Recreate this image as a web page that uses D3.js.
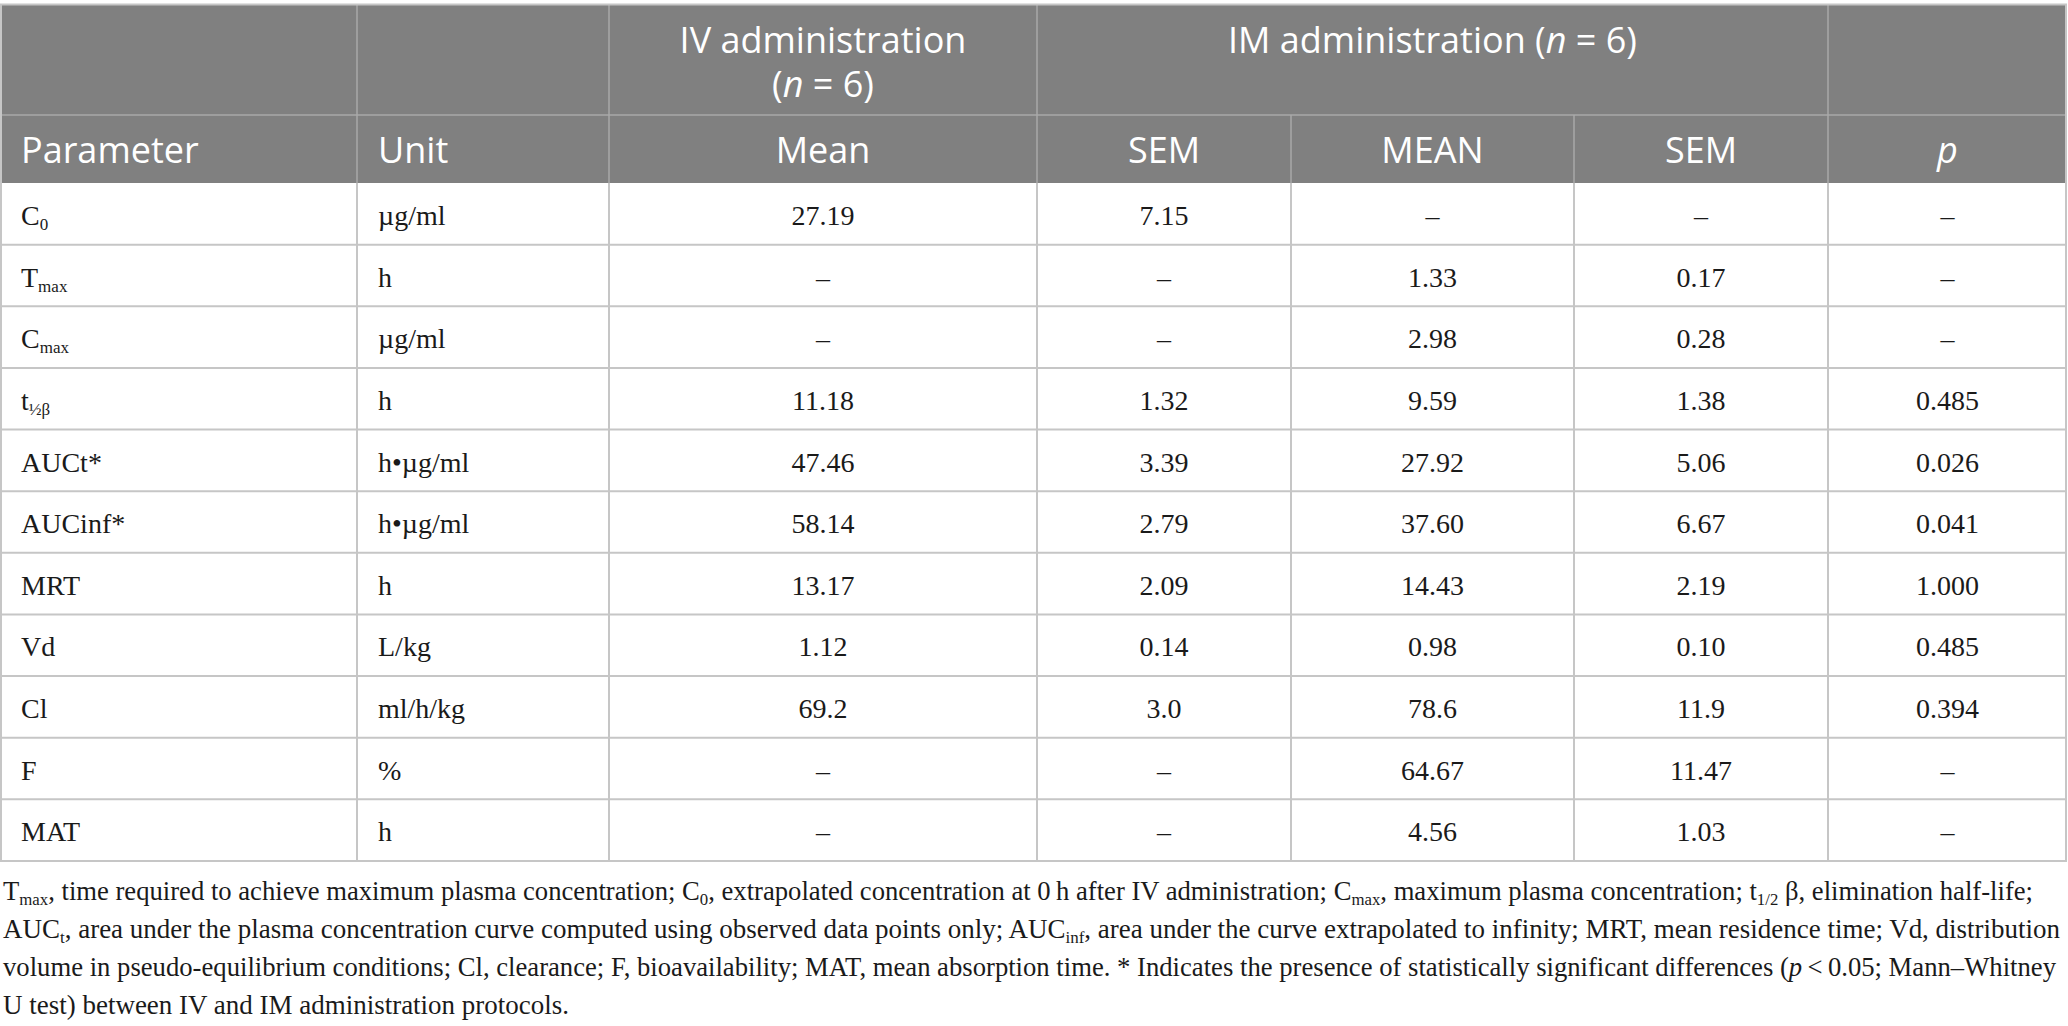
<!DOCTYPE html>
<html>
<head>
<meta charset="utf-8">
<script src="https://cdn.jsdelivr.net/npm/d3@7"></script>
<style>
  html, body { margin: 0; padding: 0; background: #fff; }
  svg { display: block; }
</style>
</head>
<body>
<svg id="chart"></svg>
<script>
// table values
const paramBase = ["C", "T", "C", "t", "AUCt*", "AUCinf*", "MRT", "Vd", "Cl", "F", "MAT"];
const paramSub = ["0", "max", "max", "½β", "", "", "", "", "", "", ""];
const units = ["µg/ml", "h", "µg/ml", "h", "h•µg/ml", "h•µg/ml", "h", "L/kg", "ml/h/kg", "%", "h"];
const ivMean = ["27.19", "–", "–", "11.18", "47.46", "58.14", "13.17", "1.12", "69.2", "–", "–"];
const ivSem = ["7.15", "–", "–", "1.32", "3.39", "2.79", "2.09", "0.14", "3.0", "–", "–"];
const imMean = ["–", "1.33", "2.98", "9.59", "27.92", "37.60", "14.43", "0.98", "78.6", "64.67", "4.56"];
const imSem = ["–", "0.17", "0.28", "1.38", "5.06", "6.67", "2.19", "0.10", "11.9", "11.47", "1.03"];
const pValues = ["–", "–", "–", "0.485", "0.026", "0.041", "1.000", "0.485", "0.394", "–", "–"];

const columnKeys = ["param", "unit", "ivMean", "ivSem", "imMean", "imSem", "p"];
const columnLabels = ["Parameter", "Unit", "Mean", "SEM", "MEAN", "SEM", "p"];

// footnote lines, each a list of [text, style] pieces
const footnote = [
  [["T", ""], ["max", "sub"], [", time required to achieve maximum plasma concentration; C", ""], ["0", "sub"],
   [", extrapolated concentration at 0\u2009h after IV administration; C", ""], ["max", "sub"],
   [", maximum plasma concentration; t", ""], ["1/2", "sub"], [" β, elimination half-life;", ""]],
  [["AUC", ""], ["t", "sub"], [", area under the plasma concentration curve computed using observed data points only; AUC", ""],
   ["inf", "sub"], [", area under the curve extrapolated to infinity; MRT, mean residence time; Vd, distribution", ""]],
  [["volume in pseudo-equilibrium conditions; Cl, clearance; F, bioavailability; MAT, mean absorption time. * Indicates the presence of statistically significant differences (", ""],
   ["p", "it"], ["\u2009<\u20090.05; Mann–Whitney", ""]],
  [["U test) between IV and IM administration protocols.", ""]]
];

const width = 2068, height = 1026;
const colWidths = [357, 252, 428, 254, 283, 254, 239];
const headTop = 4.5, headMid = 115, headBottom = 183, bodyBottom = 861;
const gridColor = "#c6c6c6", headLine = "#a8a8a8", headFill = "#808080";
const sans = "'Open Sans', 'Noto Sans', sans-serif";
const serif = "'Liberation Serif', 'DejaVu Serif', serif";

const svg = d3.select("#chart").attr("width", width).attr("height", height);

const edges = [0, ...d3.cumsum(colWidths)];
const x = d3.scaleOrdinal().domain(columnKeys).range(edges.slice(0, -1));
const w = d3.scaleOrdinal().domain(columnKeys).range(colWidths);
const cx = k => x(k) + w(k) / 2;

const rows = paramBase.map((p, i) => ({
  param: p, sub: paramSub[i], unit: units[i],
  ivMean: ivMean[i], ivSem: ivSem[i], imMean: imMean[i], imSem: imSem[i], p: pValues[i]
}));

const y = d3.scaleBand().domain(d3.range(rows.length)).range([headBottom, bodyBottom]);

// header background
svg.append("rect")
  .attr("x", 0).attr("y", headTop)
  .attr("width", edges[edges.length - 1]).attr("height", headBottom - headTop)
  .attr("fill", headFill);

// header lines
const headG = svg.append("g").attr("stroke", headLine).attr("stroke-width", 1.5);
headG.append("line").attr("x1", 0).attr("x2", edges[7]).attr("y1", headMid).attr("y2", headMid);
headG.selectAll(".v1").data([1, 2, 3, 6]).enter().append("line")
  .attr("x1", d => edges[d]).attr("x2", d => edges[d])
  .attr("y1", headTop).attr("y2", headMid);
headG.selectAll(".v2").data(d3.range(1, 7)).enter().append("line")
  .attr("x1", d => edges[d]).attr("x2", d => edges[d])
  .attr("y1", headMid).attr("y2", headBottom);

// header texts
const headText = svg.append("g").attr("fill", "#fff").attr("font-family", sans).attr("font-size", 36);

const ivT = headText.append("text").attr("text-anchor", "middle");
ivT.append("tspan").attr("x", cx("ivMean")).attr("y", 53).text("IV administration");
const ivT2 = ivT.append("tspan").attr("x", cx("ivMean")).attr("y", 97);
ivT2.append("tspan").text("(");
ivT2.append("tspan").attr("font-style", "italic").text("n");
ivT2.append("tspan").text(" = 6)");

// IM group spans SEM, MEAN, SEM
const imT = headText.append("text").attr("text-anchor", "middle")
  .attr("x", (x("ivSem") + edges[6]) / 2).attr("y", 53);
imT.append("tspan").text("IM administration (");
imT.append("tspan").attr("font-style", "italic").text("n");
imT.append("tspan").text(" = 6)");

headText.selectAll(".colhead").data(columnKeys).enter().append("text")
  .attr("x", (d, i) => i < 2 ? x(d) + 21 : cx(d))
  .attr("y", 163)
  .attr("text-anchor", (d, i) => i < 2 ? "start" : "middle")
  .attr("font-style", d => d === "p" ? "italic" : "normal")
  .text((d, i) => columnLabels[i]);

// body grid
const grid = svg.append("g").attr("stroke", gridColor).attr("stroke-width", 2).attr("fill", "none");
grid.selectAll(".h").data(d3.range(1, rows.length)).enter().append("line")
  .attr("x1", 0).attr("x2", edges[7]).attr("y1", d => y(d)).attr("y2", d => y(d));
grid.selectAll(".v").data(d3.range(1, 7)).enter().append("line")
  .attr("x1", d => edges[d]).attr("x2", d => edges[d])
  .attr("y1", headBottom).attr("y2", bodyBottom);
grid.append("rect")
  .attr("x", 1).attr("y", headTop)
  .attr("width", edges[7] - 2).attr("height", bodyBottom - headTop);

// body cells
const body = svg.append("g").attr("font-family", serif).attr("font-size", 28).attr("fill", "#1a1a1a");
const rowG = body.selectAll(".row").data(rows).enter().append("g")
  .attr("transform", (d, i) => `translate(0,${y(i) + 42})`);

const pText = rowG.append("text").attr("x", x("param") + 21);
pText.append("tspan").text(d => d.param);
pText.filter(d => d.sub).append("tspan")
  .attr("font-size", 17).attr("dy", 5).text(d => d.sub);

rowG.append("text").attr("x", x("unit") + 21).text(d => d.unit);

rowG.selectAll(".num").data(d => columnKeys.slice(2).map(k => ({ k, v: d[k] }))).enter().append("text")
  .attr("x", d => cx(d.k))
  .attr("text-anchor", "middle")
  .text(d => d.v);

// footnote, first three lines justified to the table width
const footG = svg.append("g").attr("font-family", serif).attr("font-size", 27).attr("fill", "#1a1a1a");
const lineW = [2030, 2057, 2053, 566];
footnote.forEach((pieces, i) => {
  const t = footG.append("text").attr("x", 3).attr("y", 900 + i * 38);
  pieces.forEach(([txt, st]) => {
    const s = t.append("tspan").text(txt);
    if (st === "sub") s.attr("font-size", 17).attr("baseline-shift", "-5");
    if (st === "it") s.attr("font-style", "italic");
  });
  t.attr("textLength", lineW[i]).attr("lengthAdjust", "spacingAndGlyphs");
});
</script>
</body>
</html>
